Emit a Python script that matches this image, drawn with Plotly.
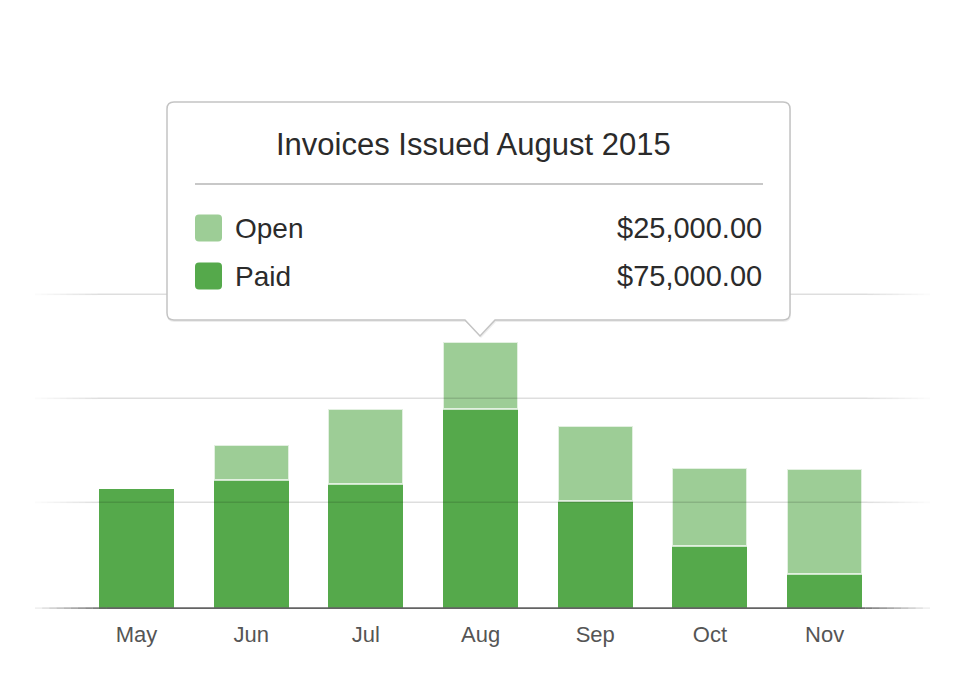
import plotly.graph_objects as go

# invoice totals per month (USD)
months = ["May", "Jun", "Jul", "Aug", "Sep", "Oct", "Nov"]
paid = [45000, 48500, 47000, 75000, 40500, 23500, 13000]
open_ = [None, 13000, 28000, 25000, 28000, 29500, 39500]
grid_values = [40000, 79000, 118000]

tip_title = "Invoices Issued August 2015"
tip_rows = [("Open", "$25,000.00"), ("Paid", "$75,000.00")]

PAID_COLOR = "#55a94b"
OPEN_COLOR = "#9dcd96"
FONT = "Helvetica Neue, Helvetica, Arial, Liberation Sans, sans-serif"

# page geometry (pixels); the page body adds an 8px offset
OFF = 8
W, H = 960, 681
ML, MR, MT, MB = 27, 38, 41, 80
PW, PH = W - ML - MR, H - MT - MB


def px(x):
    return (x - OFF - ML) / PW


def py(y):
    return (H - MB - (y - OFF)) / PH


fig = go.Figure()
fig.add_trace(go.Bar(x=months, y=paid, name="Paid", marker=dict(color=PAID_COLOR, line=dict(width=0))))
fig.add_trace(go.Bar(x=months, y=open_, name="Open",
                     marker=dict(color=OPEN_COLOR, line=dict(color="rgba(255,255,255,0.7)", width=2))))

shapes = []


def faded_line(yval, color, width, fade=0.07, steps=10):
    # horizontal line that fades out at both ends
    for i in range(steps):
        a = (i + 1) / (steps + 1)
        for x0, x1 in [(fade * i / steps, fade * (i + 1) / steps),
                       (1 - fade * (i + 1) / steps, 1 - fade * i / steps)]:
            shapes.append(dict(type="line", xref="paper", yref="y", x0=x0, x1=x1, y0=yval, y1=yval,
                               line=dict(color=color, width=width), opacity=a))
    shapes.append(dict(type="line", xref="paper", yref="y", x0=fade, x1=1 - fade, y0=yval, y1=yval,
                       line=dict(color=color, width=width)))


for g in grid_values:
    faded_line(g, "rgba(0,0,0,0.13)", 1.5)
faded_line(0, "#636363", 3.5, fade=0.08)


def box_path(x0, y0, x1, y1, r, tip_x, tip_w, tip_h):
    pts = [
        f"M {px(x0 + r)},{py(y0)}",
        f"L {px(x1 - r)},{py(y0)}",
        f"Q {px(x1)},{py(y0)} {px(x1)},{py(y0 + r)}",
        f"L {px(x1)},{py(y1 - r)}",
        f"Q {px(x1)},{py(y1)} {px(x1 - r)},{py(y1)}",
        f"L {px(tip_x + tip_w / 2)},{py(y1)}",
        f"L {px(tip_x)},{py(y1 + tip_h)}",
        f"L {px(tip_x - tip_w / 2)},{py(y1)}",
        f"L {px(x0 + r)},{py(y1)}",
        f"Q {px(x0)},{py(y1)} {px(x0)},{py(y1 - r)}",
        f"L {px(x0)},{py(y0 + r)}",
        f"Q {px(x0)},{py(y0)} {px(x0 + r)},{py(y0)}",
        "Z",
    ]
    return " ".join(pts)


# tooltip shadow + box
shapes.append(dict(type="path", xref="paper", yref="paper",
                   path=box_path(167, 104, 791, 322, 7, 481, 30, 16),
                   fillcolor="rgba(0,0,0,0.07)", line=dict(width=0)))
shapes.append(dict(type="path", xref="paper", yref="paper",
                   path=box_path(167, 102, 790, 320, 7, 480, 30, 16),
                   fillcolor="white", line=dict(color="#c4c4c4", width=1.5)))
shapes.append(dict(type="line", xref="paper", yref="paper", x0=px(195), x1=px(763), y0=py(184), y1=py(184),
                   line=dict(color="#c8c8c8", width=2)))


def swatch(x0, y0, size, color, r=4):
    x1, y1 = x0 + size, y0 + size
    path = " ".join([
        f"M {px(x0 + r)},{py(y0)}", f"L {px(x1 - r)},{py(y0)}",
        f"Q {px(x1)},{py(y0)} {px(x1)},{py(y0 + r)}", f"L {px(x1)},{py(y1 - r)}",
        f"Q {px(x1)},{py(y1)} {px(x1 - r)},{py(y1)}", f"L {px(x0 + r)},{py(y1)}",
        f"Q {px(x0)},{py(y1)} {px(x0)},{py(y1 - r)}", f"L {px(x0)},{py(y0 + r)}",
        f"Q {px(x0)},{py(y0)} {px(x0 + r)},{py(y0)}", "Z"])
    shapes.append(dict(type="path", xref="paper", yref="paper", path=path,
                       fillcolor=color, line=dict(width=0)))


annotations = [dict(text=tip_title, xref="paper", yref="paper", x=px(473), y=py(145),
                    xanchor="center", yanchor="middle", showarrow=False,
                    font=dict(family=FONT, size=31, color="#2b2b2b"))]
row_y = [228, 276]
row_colors = [OPEN_COLOR, PAID_COLOR]
for (label, value), yc, col in zip(tip_rows, row_y, row_colors):
    swatch(195, yc - 13.5, 27, col)
    annotations.append(dict(text=label, xref="paper", yref="paper", x=px(233), y=py(yc),
                            xanchor="left", yanchor="middle", showarrow=False,
                            font=dict(family=FONT, size=28, color="#2b2b2b")))
    annotations.append(dict(text=value, xref="paper", yref="paper", x=px(764), y=py(yc),
                            xanchor="right", yanchor="middle", showarrow=False,
                            font=dict(family=FONT, size=29, color="#2b2b2b")))

fig.update_layout(
    barmode="stack",
    bargap=0.346,
    width=W, height=H,
    margin=dict(l=ML, r=MR, t=MT, b=MB),
    paper_bgcolor="white",
    plot_bgcolor="white",
    showlegend=False,
    shapes=shapes,
    annotations=annotations,
    xaxis=dict(range=[-0.885, 6.919], showgrid=False, zeroline=False, showline=False, ticks="",
               tickfont=dict(family=FONT, size=22, color="#555555"), ticklabelstandoff=10),
    yaxis=dict(range=[0, 210000], showgrid=False, zeroline=False, showline=False, showticklabels=False),
)

fig.write_html("out.html")
